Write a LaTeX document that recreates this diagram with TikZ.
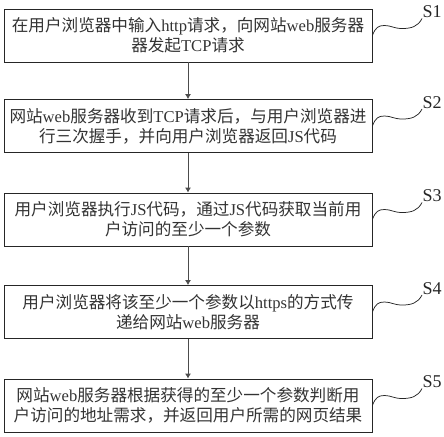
\documentclass[tikz,border=0pt]{standalone}
\usepackage{fontspec}
\setmainfont{Liberation Serif}
\newfontfamily\cjk{Noto Sans CJK SC}
\newcommand{\lat}[1]{{\rmfamily #1}}
\usetikzlibrary{arrows.meta}

\tikzset{
  stepbox/.style={draw=black!85, line width=0.8pt, minimum width=368pt, minimum height=53pt,
    inner sep=0pt, align=center, text=black!80, font=\cjk\fontsize{16.6}{20}\selectfont},
  flow/.style={draw=black!70, line width=0.9pt, -{Latex[length=5pt,width=6pt]}},
  steplab/.style={anchor=south west, inner sep=0.5pt, text=black!85, font=\fontsize{18}{18}\selectfont},
  wave/.style={draw=black!85, line width=0.75pt}
}

\begin{document}
\begin{tikzpicture}[x=1pt,y=1pt]
\useasboundingbox (0,0) rectangle (444,-436);
% draw boxes
\node[stepbox] (s1) at (188,-35.5) {在用户浏览器中输入\lat{http}请求，向网站\lat{web}服务器\\器发起\lat{TCP}请求};
\node[stepbox] (s2) at (188,-126) {网站\lat{web}服务器收到\lat{TCP}请求后，与用户浏览器进\\行三次握手，并向用户浏览器返回\lat{JS}代码};
\node[stepbox] (s3) at (188,-219.5) {用户浏览器执行\lat{JS}代码，通过\lat{JS}代码获取当前用\\户访问的至少一个参数};
\node[stepbox] (s4) at (188,-312) {用户浏览器将该至少一个参数以\lat{https}的方式传\\递给网站\lat{web}服务器};
\node[stepbox] (s5) at (188,-405.5) {网站\lat{web}服务器根据获得的至少一个参数判断用\\户访问的地址需求，并返回用户所需的网页结果};
% draw arrows
\draw[flow] (s1) -- (s2);
\draw[flow] (s2) -- (s3);
\draw[flow] (s3) -- (s4);
\draw[flow] (s4) -- (s5);
% draw step labels
\node[steplab] (l1) at (422,-18.5) {S1};
\node[steplab] (l2) at (422,-109) {S2};
\node[steplab] (l3) at (422,-202.5) {S3};
\node[steplab] (l4) at (422,-295) {S4};
\node[steplab] (l5) at (422,-388.5) {S5};
% draw waves
\draw[wave] (s1.east) .. controls +(3,8) and +(-6,0) .. ++(12,10) .. controls +(7,0) and +(-9,0) .. ++(18,-3) .. controls +(9,0) and +(-4,-8) .. (l1.south west);
\draw[wave] (s2.east) .. controls +(3,8) and +(-6,0) .. ++(12,10) .. controls +(7,0) and +(-9,0) .. ++(18,-3) .. controls +(9,0) and +(-4,-8) .. (l2.south west);
\draw[wave] (s3.east) .. controls +(3,8) and +(-6,0) .. ++(12,10) .. controls +(7,0) and +(-9,0) .. ++(18,-3) .. controls +(9,0) and +(-4,-8) .. (l3.south west);
\draw[wave] (s4.east) .. controls +(3,8) and +(-6,0) .. ++(12,10) .. controls +(7,0) and +(-9,0) .. ++(18,-3) .. controls +(9,0) and +(-4,-8) .. (l4.south west);
\draw[wave] (s5.east) .. controls +(3,8) and +(-6,0) .. ++(12,10) .. controls +(7,0) and +(-9,0) .. ++(18,-3) .. controls +(9,0) and +(-4,-8) .. (l5.south west);
\end{tikzpicture}
\end{document}
